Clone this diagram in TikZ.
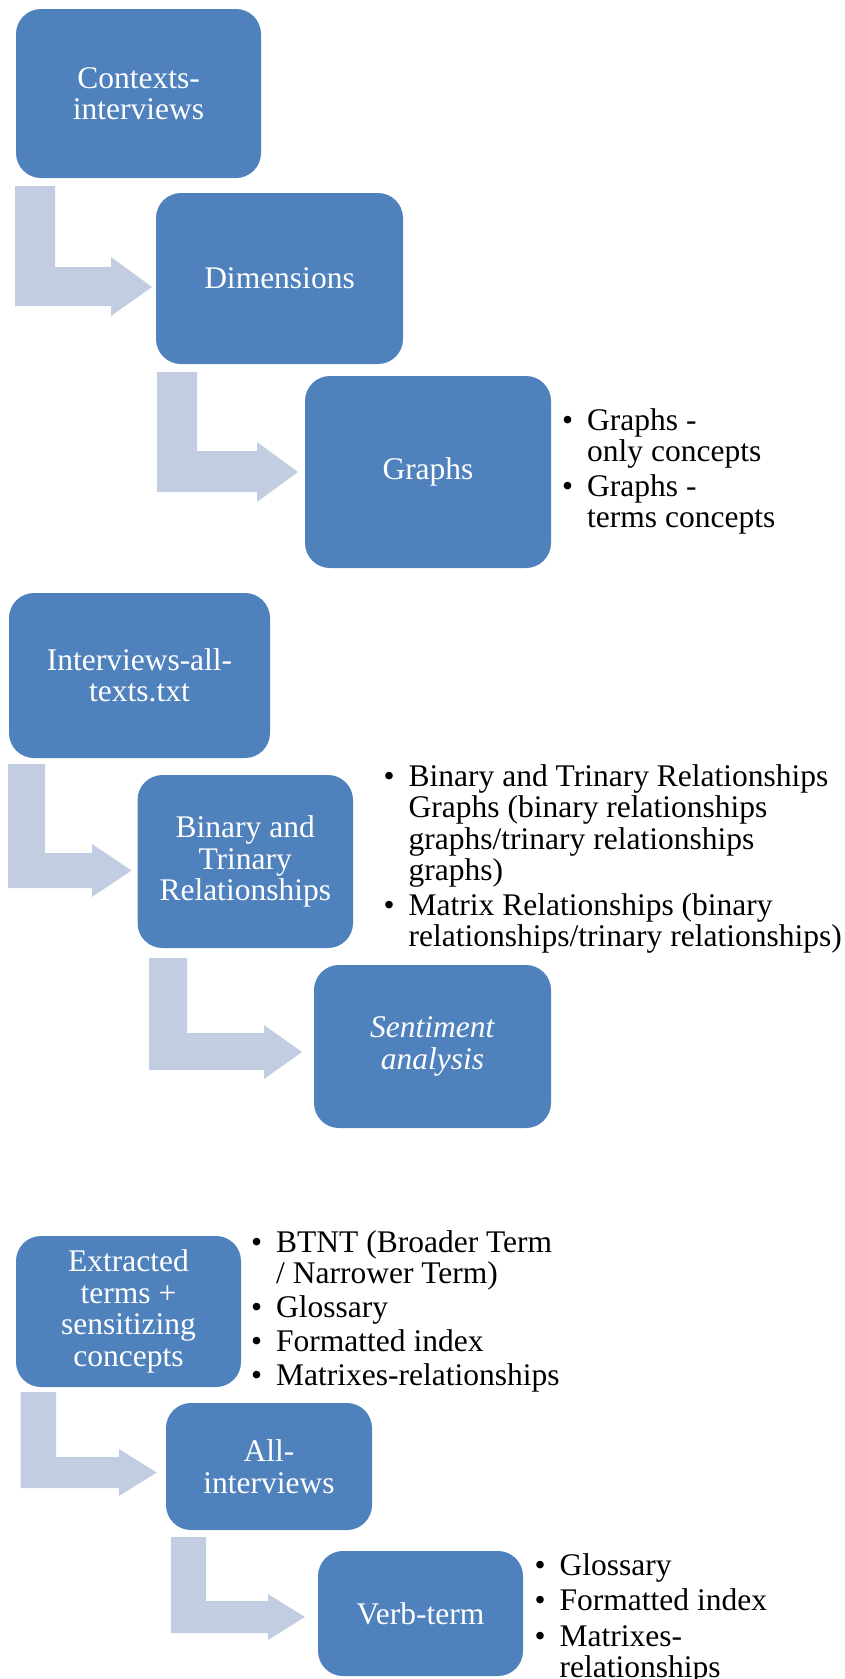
\documentclass[tikz,border=0pt]{standalone}
\usepackage{fontspec}
\setmainfont{Liberation Serif}
\usepackage{tikz}
\usetikzlibrary{positioning}

\definecolor{stepblue}{RGB}{79,129,189}
\definecolor{bendgrey}{RGB}{195,205,225}

\newcommand{\itembullet}{\llap{\textbullet\hspace{14pt}}}

\begin{document}
\begin{tikzpicture}[x=1pt,y=-1pt,
  stepbox/.style={rectangle,rounded corners=25pt,fill=stepblue,draw=none,text=white,align=center,inner sep=0pt,font=\fontsize{31.5}{31.5}\selectfont},
  bentarrow/.style={fill=bendgrey,draw=none},
  notelist/.style={anchor=base west,inner sep=0pt,font=\fontsize{31.5}{31}\selectfont}]
\useasboundingbox (0,0) rectangle (844,1679);

\node[stepbox,minimum width=245,minimum height=169] (ctx) at (138.5,93.5) {Contexts-\\interviews};
\node[stepbox,minimum width=247,minimum height=171] (dims) at (279.5,278.5) {Dimensions};
\node[stepbox,minimum width=246,minimum height=192] (graphs) at (428,472) {Graphs};
\fill[bentarrow] (15,186) -- (55,186) -- (55,267) -- (111,267) -- (111,257) -- (152,287) -- (111,316) -- (111,306) -- (15,306) -- cycle;
\fill[bentarrow] (157,372) -- (197,372) -- (197,451) -- (257,451) -- (257,442) -- (298,472) -- (257,502) -- (257,492) -- (157,492) -- cycle;
\node[notelist] (graphsnotes) at (587,430) {\begin{tabular}[t]{@{}l@{}}\itembullet Graphs -\\only concepts\\[4.5pt]\itembullet Graphs -\\terms concepts\end{tabular}};

\node[stepbox,minimum width=261,minimum height=165] (alltexts) at (139.5,675.5) {Interviews-all-\\texts.txt};
\node[stepbox,minimum width=215.5,minimum height=173] (binrel) at (245.25,861.5) {Binary and\\Trinary\\Relationships};
\node[stepbox,minimum width=237,minimum height=163] (sentiment) at (432.5,1046.5) {\textit{Sentiment}\\\textit{analysis}};
\fill[bentarrow] (8,764) -- (45,764) -- (45,853) -- (92,853) -- (92,844) -- (131.5,870.5) -- (92,897) -- (92,888) -- (8,888) -- cycle;
\fill[bentarrow] (149,958) -- (187,958) -- (187,1033) -- (264,1033) -- (264,1025) -- (302,1052) -- (264,1079) -- (264,1070) -- (149,1070) -- cycle;
\node[notelist] (binrelnotes) at (408.5,786.7) {\begin{tabular}[t]{@{}l@{}}\itembullet Binary and Trinary Relationships\\Graphs (binary relationships\\graphs/trinary relationships\\graphs)\\[4.5pt]\itembullet Matrix Relationships (binary\\relationships/trinary relationships)\end{tabular}};

\node[stepbox,minimum width=225,minimum height=151] (extracted) at (128.5,1311.5) {Extracted\\terms +\\sensitizing\\concepts};
\node[stepbox,minimum width=206,minimum height=127] (allint) at (269,1466.5) {All-\\interviews};
\node[stepbox,minimum width=205,minimum height=125] (verbterm) at (420.5,1613.5) {Verb-term};
\fill[bentarrow] (20.7,1392) -- (56,1392) -- (56,1457) -- (119,1457) -- (119,1449) -- (156.7,1472.5) -- (119,1496) -- (119,1488) -- (20.7,1488) -- cycle;
\fill[bentarrow] (171,1537) -- (206,1537) -- (206,1601) -- (268,1601) -- (268,1594) -- (305,1617) -- (268,1640) -- (268,1633) -- (171,1633) -- cycle;
\node[notelist] (extractednotes) at (276,1252) {\begin{tabular}[t]{@{}l@{}}\itembullet BTNT (Broader Term\\/ Narrower Term)\\[3pt]\itembullet Glossary\\[3pt]\itembullet Formatted index\\[3pt]\itembullet Matrixes-relationships\end{tabular}};
\node[notelist] (verbnotes) at (559.5,1575) {\begin{tabular}[t]{@{}l@{}}\itembullet Glossary\\[4.5pt]\itembullet Formatted index\\[4.5pt]\itembullet Matrixes-\\relationships\end{tabular}};

\end{tikzpicture}
\end{document}
